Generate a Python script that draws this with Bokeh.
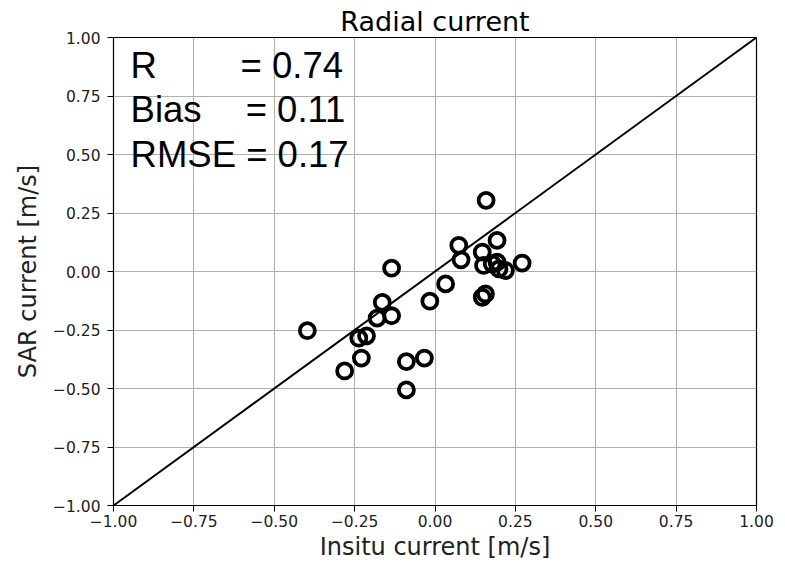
from bokeh.plotting import figure
from bokeh.models import Label, FixedTicker, Range1d, Title
from bokeh.embed import file_html
from bokeh.resources import INLINE

# Data
insitu = [0.159, 0.074, 0.081, 0.147, 0.193, 0.151, 0.178, 0.193, 0.199, 0.219,
          0.271, 0.033, 0.147, 0.157, -0.135, -0.397, -0.164, -0.180, -0.135, -0.237,
          -0.213, -0.229, -0.281, -0.089, -0.033, -0.089, -0.016]
sar = [0.304, 0.112, 0.050, 0.083, 0.133, 0.026, 0.033, 0.040, 0.011, 0.004,
       0.036, -0.053, -0.110, -0.096, 0.014, -0.253, -0.132, -0.199, -0.189, -0.285,
       -0.275, -0.370, -0.425, -0.385, -0.370, -0.506, -0.127]
one_to_one = [-1.0, 1.0]
ticks = [-1.0, -0.75, -0.5, -0.25, 0.0, 0.25, 0.5, 0.75, 1.0]
tick_labels = ["−1.00", "−0.75", "−0.50", "−0.25", "0.00", "0.25", "0.50", "0.75", "1.00"]
stat_names = ["R", "Bias"]
stat_values = ["= 0.74", "= 0.11"]
rmse_text = "RMSE = 0.17"

FONT = "DejaVu Sans"

p = figure(width=785, height=567, output_backend="svg", toolbar_location=None,
           x_range=Range1d(-1, 1), y_range=Range1d(-1, 1),
           min_border_left=113, min_border_right=29, min_border_top=37, min_border_bottom=62,
           x_axis_label="Insitu current [m/s]", y_axis_label="SAR current [m/s]")
p.title = Title(text="Radial current", align="center", text_font=FONT,
                text_font_size="27px", text_font_style="normal", text_color="black",
                standoff=2, offset=0)
p.background_fill_color = "white"
p.border_fill_color = "white"
p.outline_line_color = "black"
p.outline_line_width = 1.2

overrides = {t: l for t, l in zip(ticks, tick_labels)}
for ax in (p.xaxis[0], p.yaxis[0]):
    ax.ticker = FixedTicker(ticks=ticks)
    ax.major_label_overrides = overrides
    ax.minor_tick_line_color = None
    ax.major_tick_out = 6
    ax.major_tick_in = 0
    ax.major_tick_line_color = "black"
    ax.axis_line_color = "black"
    ax.major_label_text_font = FONT
    ax.major_label_text_font_size = "15.5px"
    ax.major_label_text_color = "#222222"
    ax.axis_label_text_font = FONT
    ax.axis_label_text_font_size = "24px"
    ax.axis_label_text_font_style = "normal"
    ax.axis_label_text_color = "#222222"
p.xaxis.major_label_standoff = 3
p.xaxis.axis_label_standoff = 3
p.yaxis.major_label_standoff = 7
p.yaxis.axis_label_standoff = 8

for g in (p.xgrid[0], p.ygrid[0]):
    g.ticker = FixedTicker(ticks=ticks)
    g.grid_line_color = "#b0b0b0"
    g.grid_line_width = 1

p.line(one_to_one, one_to_one, line_color="black", line_width=2)
p.scatter(insitu, sar, marker="circle", size=15, fill_color=None,
          line_color="black", line_width=3.8)

SFONT = "Liberation Sans"
SSIZE = "36.5px"
ys = [0.879, 0.693]
xs_val = [-0.605, -0.589]
for name, val, yy, xv in zip(stat_names, stat_values, ys, xs_val):
    p.add_layout(Label(x=-0.947, y=yy, text=name, text_font=SFONT, text_font_size=SSIZE,
                       text_baseline="alphabetic", text_color="black"))
    p.add_layout(Label(x=xv, y=yy, text=val, text_font=SFONT, text_font_size=SSIZE,
                       text_baseline="alphabetic", text_color="black"))
p.add_layout(Label(x=-0.947, y=0.500, text=rmse_text, text_font=SFONT, text_font_size=SSIZE,
                   text_baseline="alphabetic", text_color="black"))

open("out.html", "w").write(file_html(p, INLINE))
